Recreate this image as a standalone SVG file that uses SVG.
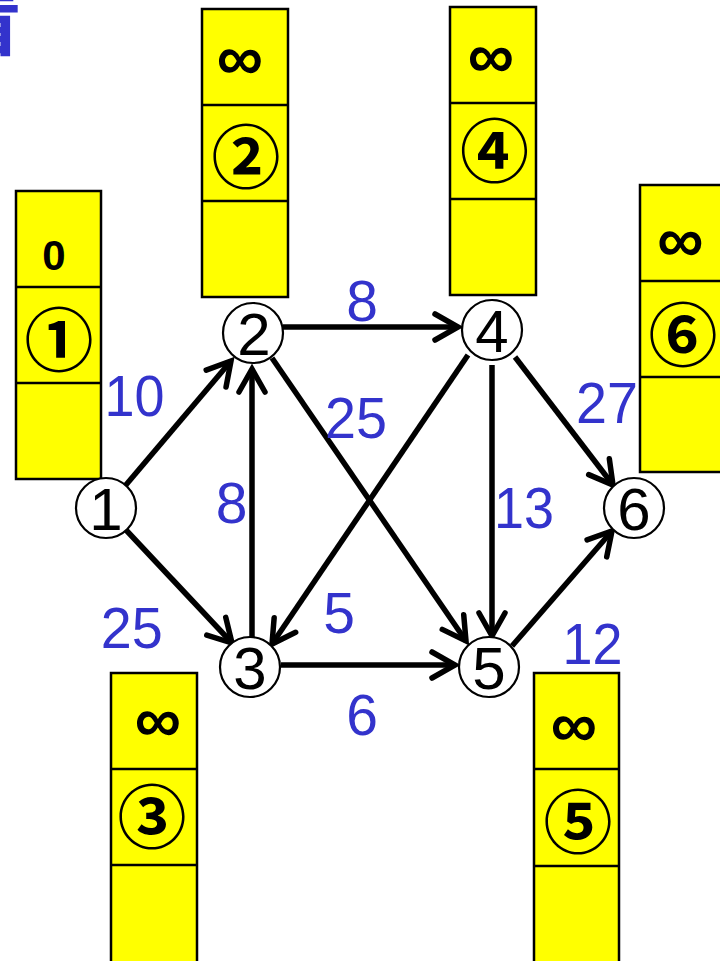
<svg xmlns="http://www.w3.org/2000/svg" width="720" height="961" viewBox="0 0 720 961">
<style>
.box{fill:#ffff00;stroke:#000;stroke-width:2.5}
.div{stroke:#000;stroke-width:2.5}
.inf{font-family:"Liberation Sans",Arial,sans-serif;font-weight:bold;font-size:65px;fill:#000;text-anchor:middle}
.circ{font-family:"Noto Sans CJK JP","Noto Sans CJK SC",sans-serif;font-weight:bold;font-size:69px;fill:#000;text-anchor:middle}
.zero{font-family:"Liberation Sans",Arial,sans-serif;font-weight:bold;font-size:42px;fill:#000;text-anchor:middle}
.node circle{fill:#fff;stroke:#000;stroke-width:2.2}
.node text{font-family:"Liberation Sans",Arial,sans-serif;font-size:60px;fill:#000;text-anchor:middle}
.lbl{font-family:"Liberation Sans",Arial,sans-serif;font-size:57px;fill:#3333cc;text-anchor:middle}
.edge{stroke:#000;stroke-width:5.5;fill:none;marker-end:url(#arr)}
</style>
<defs>
<marker id="arr" markerUnits="userSpaceOnUse" orient="auto" markerWidth="50" markerHeight="50" viewBox="-35 -25 50 50" refX="0" refY="0" overflow="visible">
<path d="M-23,-13 L0,0 L-23,13" fill="none" stroke="#000" stroke-width="5.5" stroke-linecap="round" stroke-linejoin="miter"/>
</marker>
</defs>
<rect width="720" height="961" fill="#fff"/>
<text x="-58" y="48" font-family="Noto Sans CJK SC,Noto Sans CJK JP,sans-serif" font-weight="bold" font-size="80" fill="#3333cc">看</text>

<g id="table1">
<rect class="box" x="16" y="191" width="85" height="288"/>
<line class="div" x1="16" y1="287" x2="101" y2="287"/>
<line class="div" x1="16" y1="383" x2="101" y2="383"/>
<text class="zero" x="54" y="270">0</text>
<text class="circ" x="59" y="366">①</text>
</g>
<g id="table2">
<rect class="box" x="202" y="9" width="86" height="288"/>
<line class="div" x1="202" y1="105" x2="288" y2="105"/>
<line class="div" x1="202" y1="201" x2="288" y2="201"/>
<text class="inf" x="240" y="80">∞</text>
<text class="circ" x="246" y="182.5">②</text>
</g>
<g id="table4">
<rect class="box" x="450" y="7" width="86" height="288"/>
<line class="div" x1="450" y1="103" x2="536" y2="103"/>
<line class="div" x1="450" y1="199" x2="536" y2="199"/>
<text class="inf" x="491" y="77.5">∞</text>
<text class="circ" x="494.5" y="176.5">④</text>
</g>
<g id="table6">
<rect class="box" x="640" y="185" width="90" height="287"/>
<line class="div" x1="640" y1="281" x2="730" y2="281"/>
<line class="div" x1="640" y1="377" x2="730" y2="377"/>
<text class="inf" x="680.5" y="262">∞</text>
<text class="circ" x="683" y="360.5">⑥</text>
</g>
<g id="table3">
<rect class="box" x="111" y="673" width="86" height="300"/>
<line class="div" x1="111" y1="769" x2="197" y2="769"/>
<line class="div" x1="111" y1="865" x2="197" y2="865"/>
<text class="inf" x="158" y="742">∞</text>
<text class="circ" x="152" y="843">③</text>
</g>
<g id="table5">
<rect class="box" x="534" y="673" width="85" height="300"/>
<line class="div" x1="534" y1="769" x2="619" y2="769"/>
<line class="div" x1="534" y1="866" x2="619" y2="866"/>
<text class="inf" x="574" y="747">∞</text>
<text class="circ" x="578" y="847.5">⑤</text>
</g>

<g id="connectors">
<line class="edge" x1="125" y1="486" x2="231" y2="361"/>
<line class="edge" x1="126" y1="530" x2="232" y2="643"/>
<line class="edge" x1="252" y1="637" x2="252" y2="369"/>
<line class="edge" x1="283" y1="327" x2="458" y2="327"/>
<line class="edge" x1="272" y1="358" x2="466" y2="641"/>
<line class="edge" x1="468" y1="355" x2="272" y2="644"/>
<line class="edge" x1="492" y1="365" x2="492" y2="636"/>
<line class="edge" x1="515" y1="357" x2="613" y2="485"/>
<line class="edge" x1="512" y1="646" x2="612" y2="531"/>
<line class="edge" x1="281" y1="665" x2="455" y2="665"/>
</g>

<g id="labels">
<text class="lbl" x="134.5" y="416" textLength="60" lengthAdjust="spacingAndGlyphs">10</text>
<text class="lbl" x="362" y="321">8</text>
<text class="lbl" x="356" y="438" textLength="62" lengthAdjust="spacingAndGlyphs">25</text>
<text class="lbl" x="607" y="423" textLength="62" lengthAdjust="spacingAndGlyphs">27</text>
<text class="lbl" x="231.5" y="523">8</text>
<text class="lbl" x="524" y="528" textLength="60" lengthAdjust="spacingAndGlyphs">13</text>
<text class="lbl" x="131.7" y="648" textLength="62" lengthAdjust="spacingAndGlyphs">25</text>
<text class="lbl" x="339" y="633">5</text>
<text class="lbl" x="362" y="735">6</text>
<text class="lbl" x="592.5" y="664" textLength="60" lengthAdjust="spacingAndGlyphs">12</text>
</g>

<g id="node1" class="node"><circle cx="106" cy="508" r="30"/><text x="106" y="530">1</text></g>
<g id="node2" class="node"><circle cx="253" cy="333" r="30"/><text x="254" y="355">2</text></g>
<g id="node3" class="node"><circle cx="250" cy="667" r="30"/><text x="250" y="689">3</text></g>
<g id="node4" class="node"><circle cx="492" cy="330" r="30"/><text x="492" y="352">4</text></g>
<g id="node5" class="node"><circle cx="489" cy="667" r="30"/><text x="489" y="689">5</text></g>
<g id="node6" class="node"><circle cx="634" cy="508" r="30"/><text x="634" y="530">6</text></g>
</svg>
